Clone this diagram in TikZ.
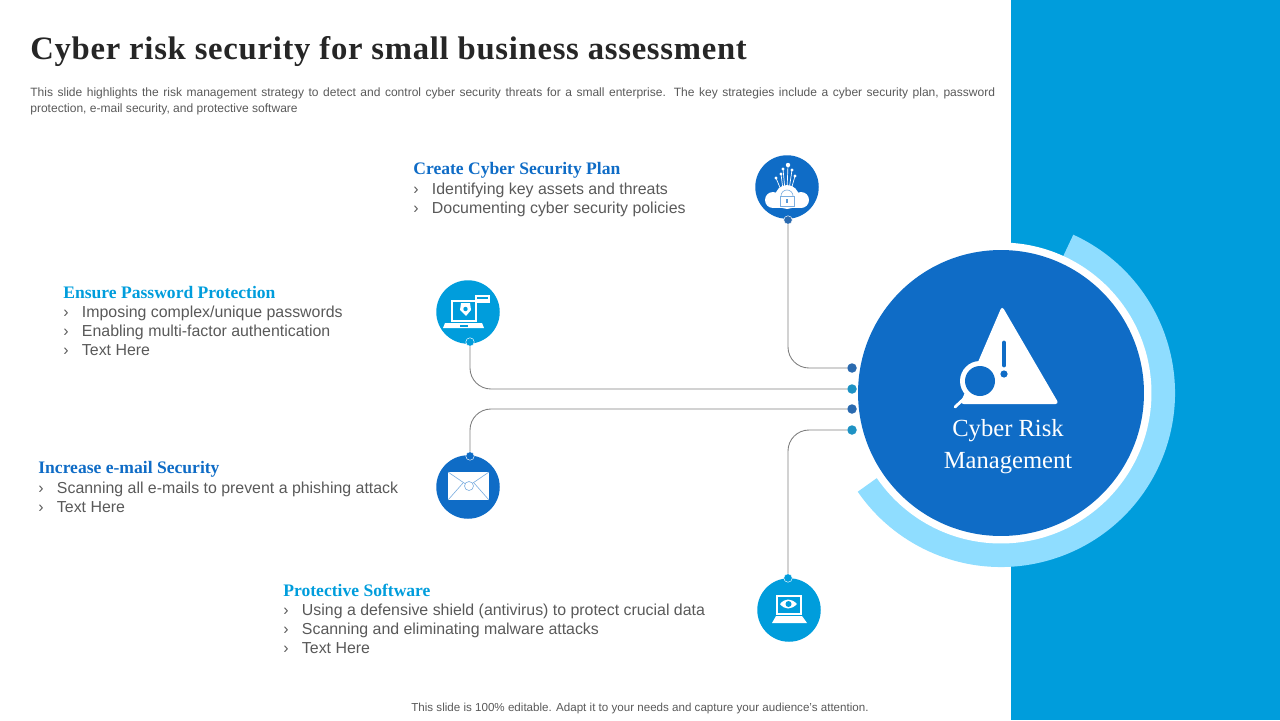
\documentclass[tikz,border=0pt]{standalone}
\usepackage{fontspec}
\setmainfont{Liberation Sans}
\newfontfamily\headfont{Liberation Serif}
\usepackage{xcolor}
\usetikzlibrary{positioning}
\definecolor{sidebarblue}{HTML}{009DDC}
\definecolor{darkblue}{HTML}{0F6CC6}
\definecolor{ringblue}{HTML}{8FDDFF}
\definecolor{pindark}{HTML}{2A6AAF}
\definecolor{pinteal}{HTML}{1E92C4}
\definecolor{textgrey}{HTML}{595959}
\definecolor{wiregrey}{HTML}{7F7F7F}
\newcommand{\bul}{\makebox[10.6pt][l]{›}}
\tikzset{
    iconbg/.style={circle, inner sep=0pt, minimum size=1.27cm},
    pin/.style={circle, inner sep=0pt, minimum size=0.17cm, draw=white, line width=0.25pt},
    hubpin/.style={circle, inner sep=0pt, minimum size=0.19cm},
    wire/.style={draw=wiregrey, line width=0.5pt, rounded corners=0.42cm},
    heading/.style={anchor=west, inner sep=0pt, font=\headfont\bfseries\fontsize{10}{12}\selectfont},
    items/.style={anchor=north west, inner sep=0pt, align=left, text=textgrey, font=\fontsize{9.05}{10.8}\selectfont},
    glyph/.style={fill=white, draw=none},
    glyphline/.style={draw=darkblue!55!white, line width=0.35pt}
}
\begin{document}
\begin{tikzpicture}[x=0.02cm, y=-0.02cm]
    \useasboundingbox (0,0) rectangle (1280,720);
    \fill[sidebarblue] (1011,0) rectangle (1280,720);

    % title and intro
    \node[anchor=west, inner sep=0pt, text=black!85, font=\headfont\bfseries\fontsize{18.6}{22}\selectfont] (title) at (30,52) {\addfontfeature{LetterSpace=2.2}Cyber risk security for small business assessment};
    \node[anchor=north west, inner sep=0pt, text width=19.3cm, align=justify, text=textgrey, font=\fontsize{6.85}{9.2}\selectfont] (intro) at (30,87) {This slide highlights the risk management strategy to detect and control cyber security threats for a small enterprise. The key strategies include a cyber security plan, password protection, e-mail security, and protective software};
    \node[inner sep=0pt, text=textgrey, font=\fontsize{6.6}{8}\selectfont] (footer) at (640,708) {This slide is 100\% editable. Adapt it to your needs and capture your audience's attention.};

    % central circle
    \draw[ringblue, line width=0.48cm] (1001,393) ++(-65.5:162) arc[start angle=-65.5, end angle=145.5, radius=162];
    \node[circle, fill=white, inner sep=0pt, minimum size=6.02cm] (hubring) at (1001,393) {};
    \node[circle, fill=darkblue, inner sep=0pt, minimum size=5.72cm] (hub) at (1001,393) {};

    % warning sign
    \fill[white, rounded corners=0.07cm] (1002,306) -- (1059,404) -- (960,404) -- cycle;
    \draw[white, line width=1.6pt, line cap=round] (969,394) -- (955,407);
    \fill[white] (980,381) circle (20);
    \fill[darkblue] (980,381) circle (15);
    \draw[darkblue, line width=2.8pt, line cap=round] (1004,343) -- (1004,365);
    \fill[darkblue] (1004,374) circle (3.6);
    \node[inner sep=0pt, text=white, align=center, font=\headfont\fontsize{14}{18.1}\selectfont] (hubtext) at (1008,447) {Cyber Risk\\Management};

    % four icon circles
    \node[iconbg, fill=darkblue] (planicon) at (787,187) {};
    \node[iconbg, fill=sidebarblue] (passicon) at (468,312) {};
    \node[iconbg, fill=darkblue] (mailicon) at (468,487) {};
    \node[iconbg, fill=sidebarblue] (softicon) at (789,610) {};

    \node[pin, fill=pindark] (plandot) at (788,220) {};
    \node[pin, fill=sidebarblue] (passdot) at (470,342) {};
    \node[pin, fill=darkblue] (maildot) at (470,456) {};
    \node[pin, fill=sidebarblue] (softdot) at (788,578) {};

    \node[hubpin, fill=pindark] (hubA) at (852,368) {};
    \node[hubpin, fill=pinteal] (hubB) at (852,389) {};
    \node[hubpin, fill=pindark] (hubC) at (852,409) {};
    \node[hubpin, fill=pinteal] (hubD) at (852,430) {};

    \draw[wire] (plandot) |- (hubA);
    \draw[wire] (passdot) |- (hubB);
    \draw[wire] (maildot) |- (hubC);
    \draw[wire] (softdot) |- (hubD);

    % cloud with lock
    \draw[white, line width=0.4pt] (787,190) -- (788,165);
    \draw[white, line width=0.4pt] (785,190) -- (783,169);
    \draw[white, line width=0.4pt] (783,190) -- (781,174);
    \draw[white, line width=0.4pt] (781,190) -- (776,178);
    \draw[white, line width=0.4pt] (789,190) -- (792,170);
    \draw[white, line width=0.4pt] (791,190) -- (795,176);
    \fill[white] (788,165) circle (2.2);
    \fill[white] (783,169) circle (1.7);
    \fill[white] (781,174) circle (1.7);
    \fill[white] (776,178) circle (1.7);
    \fill[white] (792,170) circle (1.7);
    \fill[white] (795,176) circle (1.7);
    \fill[white] (773,200) circle (8);
    \fill[white] (801,200) circle (8);
    \fill[white] (787,197) circle (12);
    \fill[white] (773,202) rectangle (801,208);
    \draw[glyphline] (781,196) arc[start angle=180, end angle=360, radius=6];
    \draw[glyphline] (780,196) rectangle (794,206);
    \fill[darkblue!70!white] (786,199) rectangle (788,203);

    % laptop with card
    \fill[white] (451,300) rectangle (477,322);
    \fill[sidebarblue] (453,302) rectangle (475,320);
    \fill[white] (445,323) -- (482,323) -- (484,328) -- (443,328) -- cycle;
    \fill[sidebarblue] (460,325) rectangle (468,326.5);
    \fill[white] (461,303) -- (470,303) -- (471,310) -- (466,316) -- (460,310) -- cycle;
    \fill[sidebarblue] (465.5,309) circle (2.2);
    \fill[white] (475,295) rectangle (490,303);
    \fill[sidebarblue] (477,297) rectangle (488,299);

    % envelope
    \fill[white] (448,472) rectangle (489,500);
    \draw[glyphline] (448,472) -- (468.5,486) -- (489,472);
    \draw[glyphline] (448,500) -- (463,483);
    \draw[glyphline] (489,500) -- (474,483);
    \fill[white] (469,486) circle (5);
    \draw[glyphline] (469,486) circle (4.5);

    % laptop with eye
    \fill[white] (776,595) rectangle (802,615);
    \fill[sidebarblue] (778,597) rectangle (800,613);
    \fill[white] (776,616) -- (802,616) -- (807,623) -- (772,623) -- cycle;
    \fill[white] (780,604) .. controls (785,598) and (791,598) .. (797,604) .. controls (791,610) and (785,610) .. (780,604);
    \fill[sidebarblue] (788.5,604) circle (3);

    % text blocks
    \node[heading, text=darkblue] (planhead) at (413,170) {Create Cyber Security Plan};
    \node[items] (planitems) at (413,183) {\bul Identifying key assets and threats\\\bul Documenting cyber security policies};

    \node[heading, text=sidebarblue] (passhead) at (63,293) {Ensure Password Protection};
    \node[items] (passitems) at (63,306) {\bul Imposing complex/unique passwords\\\bul Enabling multi-factor authentication\\\bul Text Here};

    \node[heading, text=darkblue] (mailhead) at (38,469) {Increase e-mail Security};
    \node[items] (mailitems) at (38,482) {\bul Scanning all e-mails to prevent a phishing attack\\\bul Text Here};

    \node[heading, text=sidebarblue] (softhead) at (283,590) {Protective Software};
    \node[items] (softitems) at (283,604) {\bul Using a defensive shield (antivirus) to protect crucial data\\\bul Scanning and eliminating malware attacks\\\bul Text Here};
\end{tikzpicture}
\end{document}
